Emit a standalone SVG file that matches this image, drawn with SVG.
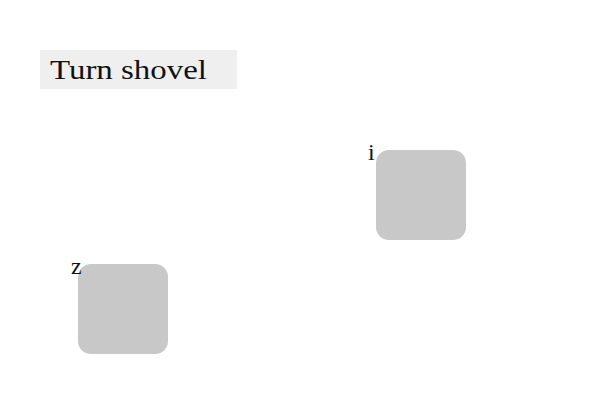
<svg xmlns="http://www.w3.org/2000/svg" width="600" height="400" viewBox="0 0 600 400">
<style>
.t{font-family:"Liberation Serif","Times New Roman",serif;fill:#111}
.n{fill:#c8c8c8}
</style>
<rect width="600" height="400" fill="#fff"/>
<g id="title">
<rect x="40" y="50" width="197" height="39" fill="#efefef"/>
<text class="t" x="50" y="79" font-size="27" textLength="157" lengthAdjust="spacingAndGlyphs">Turn shovel</text>
</g>
<g id="node-i">
<rect class="n" x="376" y="150" width="90" height="90" rx="13"/>
<text class="t" x="368" y="160" font-size="24">i</text>
</g>
<g id="node-z">
<rect class="n" x="78" y="264" width="90" height="90" rx="13"/>
<text class="t" x="71" y="274" font-size="24">z</text>
</g>
<g id="connectors"/>
</svg>
